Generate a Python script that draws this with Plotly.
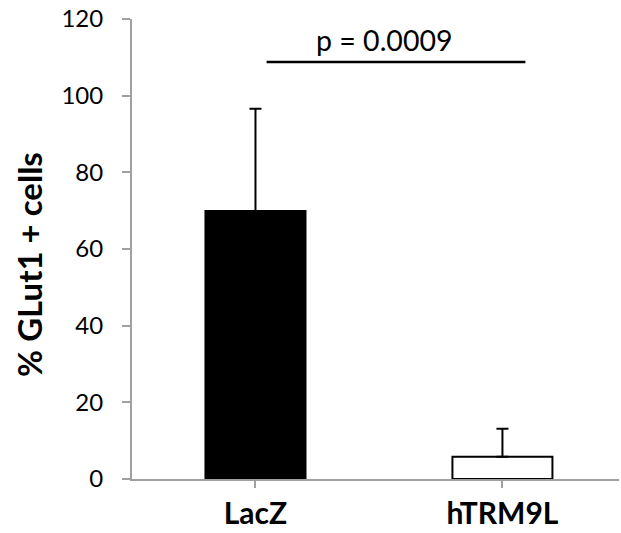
import plotly.graph_objects as go

categories = ["LacZ", "hTRM9L"]
values = [69.9, 5.8]
errors_plus = [26.7, 7.3]
bar_colors = ["#000000", "#ffffff"]
y_ticks = [0, 20, 40, 60, 80, 100, 120]
y_title = "% GLut1 + cells"
sig_text = "p = 0.0009"
sig_line_x = [0.045, 1.093]
sig_line_y = 108.8
sig_text_x = 0.52
sig_text_y = 114.6

FONT = "Lato"

fig = go.Figure()
fig.add_trace(go.Bar(
    x=[0, 1], y=values,
    width=0.405,
    marker=dict(color=bar_colors, line=dict(color="#000000", width=2)),
    error_y=dict(type="data", symmetric=False, array=errors_plus,
                 arrayminus=[0, 0], color="#000000", thickness=2, width=6),
    showlegend=False,
))

fig.add_shape(type="line", xref="x", yref="y",
              x0=sig_line_x[0], x1=sig_line_x[1], y0=sig_line_y, y1=sig_line_y,
              line=dict(color="#000000", width=2.5))
fig.add_annotation(x=sig_text_x, y=sig_text_y, xref="x", yref="y",
                   text=sig_text, showarrow=False,
                   font=dict(family=FONT, size=28.5, color="#000000"))
fig.add_annotation(x=-0.212, y=0.467, xref="paper", yref="paper",
                   xanchor="center", yanchor="middle", textangle=-90,
                   text=y_title, showarrow=False,
                   font=dict(family=FONT, size=33, color="#000000", weight="bold"))

fig.update_layout(
    width=621, height=533,
    margin=dict(l=132, r=2, t=19, b=54),
    paper_bgcolor="white", plot_bgcolor="white",
    font=dict(family=FONT, color="#000000"),
)
fig.update_xaxes(
    range=[-0.5, 1.472],
    tickmode="array", tickvals=[0, 1], ticktext=categories,
    tickson="boundaries", ticks="outside", ticklen=7, tickwidth=2, tickcolor="#a0a0a0",
    showline=True, linecolor="#a0a0a0", linewidth=2,
    showgrid=False, zeroline=False,
    tickfont=dict(family=FONT, size=30, color="#000000", weight="bold"),
)
fig.update_yaxes(
    range=[0, 120],
    tickmode="array", tickvals=y_ticks,
    ticks="outside", ticklen=8, tickwidth=2, tickcolor="#a0a0a0",
    ticklabelstandoff=14,
    showline=True, linecolor="#a0a0a0", linewidth=2,
    showgrid=False, zeroline=False,
    tickfont=dict(family=FONT, size=24, color="#000000"),
)

fig.write_html("out.html", config={"displayModeBar": False},
               post_script="document.body.style.margin='0';")
